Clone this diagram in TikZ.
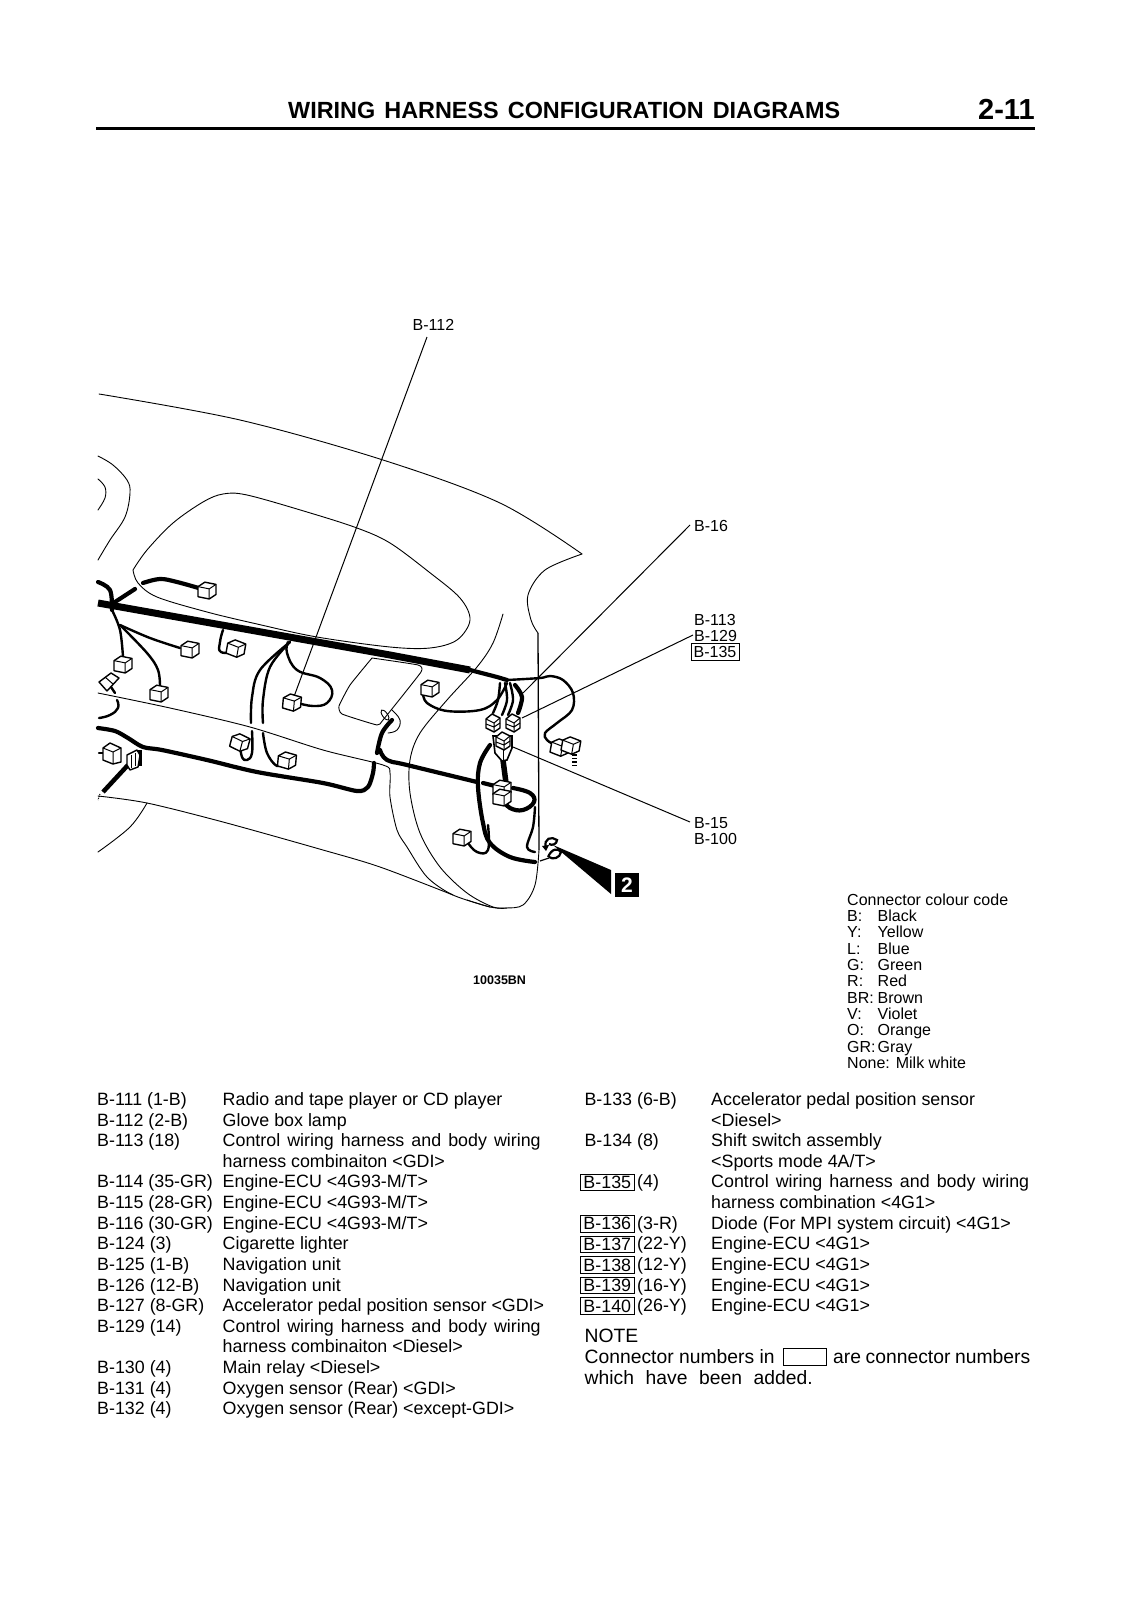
\documentclass[tikz,border=0pt]{standalone}
\usepackage{fontspec}
\setmainfont{Liberation Sans}
\tikzset{
 x=1pt,y=-1pt,
 tbl/.style={anchor=base west,inner sep=0pt,font=\fontsize{17.85}{20}\selectfont},
 lab/.style={anchor=base west,inner sep=0pt,font=\fontsize{16}{18}\selectfont},
 boxed/.style={draw,line width=0.9pt,inner sep=0pt,minimum width=54.5pt,minimum height=16.6pt,anchor=center,font=\fontsize{17.85}{20}\selectfont},
 body/.style={line width=0.9pt,line cap=round,line join=round},
 lead/.style={line width=1pt},
 wire/.style={line width=2.4pt,line cap=round,line join=round},
 harn/.style={line width=4.2pt,line cap=round,line join=round},
 main/.style={line width=7pt,line join=round},
 conn/.style={line width=1.4pt,line join=round,fill=white},
}
\newcommand{\conn}[3]{\begin{scope}[shift={(#1,#2)},rotate=#3,scale=1.12]
 \draw[conn] (-8,-3) -- (-2,-7) -- (8,-5) -- (8,4) -- (2,8) -- (-8,6) -- cycle;
 \draw[line width=1pt] (-8,-3) -- (2,-1) -- (8,-5) (2,-1) -- (2,8);
 \end{scope}}
\newcommand{\vconn}[2]{\begin{scope}[shift={(#1,#2)}]
 \draw[conn] (-7,-3) -- (-1,-8) -- (7,-4) -- (7,6) -- (1,10) -- (-7,6) -- cycle;
 \draw[line width=1pt] (-7,-3) -- (1,1) -- (7,-4) (-7,2) -- (1,5) -- (7,1) (1,1) -- (1,10);
 \end{scope}}
\newcommand{\tl}[4]{\node[tbl] (l#1) at (97,{1105.4+20.63*#1}) {#2}; \node[tbl] (d#1) at (222.5,{1105.4+20.63*#1}) {#3#4};}
\newcommand{\tr}[4]{\node[tbl] (rc#1) at (584.3,{1105.4+20.63*#1}) {#2}; \node[tbl] (rd#1) at (711,{1105.4+20.63*#1}) {#3#4};}
\newcommand{\trb}[4]{\node[boxed] (rc#1) at (607.3,{1105.4+20.63*#1-5.5}) {#2}; \node[tbl] (rn#1) at (637,{1105.4+20.63*#1}) {#3}; \node[tbl] (rd#1) at (711,{1105.4+20.63*#1}) {#4};}
\begin{document}
\begin{tikzpicture}
\useasboundingbox (0,0) rectangle (1131,1600);
% header
\node[anchor=base west,inner sep=0pt,font=\fontsize{23.4}{26}\bfseries\selectfont] (title) at (288,118) {\makebox[552pt][s]{WIRING HARNESS CONFIGURATION DIAGRAMS}};
\node[anchor=base west,inner sep=0pt,font=\fontsize{29}{30}\bfseries\selectfont] (page) at (978,120) {2-11};
\coordinate (ruleA) at (96,128.5); \coordinate (ruleB) at (1035,128.5);
\draw[line width=3.6pt] (ruleA) -- (ruleB);
% body outlines
\draw[body] plot[smooth,tension=.55] coordinates {(99,394) (240,420) (383,460) (500,503) (582,554)};
\draw[body] plot[smooth,tension=.55] coordinates {(582,554) (545,570) (528,595) (531,620) (538,633)};
\draw[line width=1.3pt] (538,633) -- (539,850);
\draw[body] plot[smooth,tension=.55] coordinates {(539,850) (535,885) (523,905) (505,908) (490,907) (467,900)};
\draw[body] plot[smooth,tension=.6] coordinates {(98,456) (113,465) (127,480) (130,493) (125,517) (110,540) (98,560)};
\draw[body] plot[smooth,tension=.6] coordinates {(98,479) (105,487) (105,498) (98,510)};
% glove box
\draw[body] plot[smooth,tension=.55] coordinates {(133,570) (138,583) (157,597) (207,612) (257,624) (317,637) (390,647) (430,648) (457,640) (470,620) (460,598) (429,572) (390,543) (357,528) (307,512) (247,495) (223,494) (203,502) (173,523) (147,550) (133,570)};
\draw[body] plot[smooth,tension=.55] coordinates {(503,614) (493,643) (477,667) (447,700) (420,733) (410,760) (410,793) (420,833) (440,867) (467,893) (493,907) (507,908)};
\draw[body] plot[smooth,tension=.5] coordinates {(98,693) (170,708) (250,727) (323,750) (383,765) (390,773) (390,797) (397,830) (407,847) (427,877) (453,895) (490,907)};
\draw[body] plot[smooth,tension=.5] coordinates {(98,796) (147,803) (223,822) (323,850) (380,867) (453,895)};
\draw[body] plot[smooth,tension=.6] coordinates {(147,803) (130,827) (98,852)};
\draw[body,fill=white] plot[smooth,tension=.25] coordinates {(372,658) (418,665) (421,672) (383,720) (377,725) (342,714) (339,706) (350,685) (372,658)};
\draw[body] plot[smooth,tension=.7] coordinates {(392,710) (400,720) (397,730) (388,733)};
\draw[body,rotate around={35:(385,715)}] (385,715) ellipse (2.5 and 6);
% leaders
\coordinate (c112a) at (427,337); \coordinate (c112b) at (292,702);
\coordinate (c16a) at (690,525); \coordinate (c16b) at (523,693);
\coordinate (c129a) at (693,635); \coordinate (c129b) at (522,718);
\coordinate (c15a) at (690,822); \coordinate (c15b) at (513,747);
\draw[lead] (c112a) -- (c112b);
\draw[lead] (c16a) -- (c16b);
\draw[lead] (c129a) -- (c129b);
\draw[lead] (c15a) -- (c15b);
% harness
\draw[main] (98,603) -- (250,630) -- (390,655) -- (470,670);
\draw[harn] (470,670) -- (497,677) -- (507,680);
\draw[harn] plot[smooth,tension=.6] coordinates {(98,582) (110,590) (112,610)};
\draw[harn] (115,602) -- (135,589);
\draw[harn] plot[smooth,tension=.6] coordinates {(143,583) (160,579) (177,582) (202,589)};
\draw[wire] plot[smooth,tension=.6] coordinates {(112,610) (120,630) (123,657)};
\draw[wire] plot[smooth,tension=.6] coordinates {(120,625) (147,653) (158,670) (160,687)};
\draw[wire] plot[smooth,tension=.6] coordinates {(120,625) (150,638) (180,648)};
\draw[wire] plot[smooth,tension=.8] coordinates {(223,630) (220,642) (221,652) (236,652)};
\draw[wire] plot[smooth,tension=.6] coordinates {(290,642) (260,670) (252,697) (251,723)};
\draw[wire] plot[smooth,tension=.7] coordinates {(252,731) (252,753) (247,760) (242,757) (240,745)};
\draw[wire] plot[smooth,tension=.6] coordinates {(290,642) (270,667) (263,700) (263,723)};
\draw[wire] plot[smooth,tension=.6] coordinates {(263,733) (267,753) (277,766) (287,762)};
\draw[wire] plot[smooth,tension=.7] coordinates {(288,642) (287,653) (297,670) (320,678) (332,690) (327,703) (313,706) (298,703)};
\draw[harn] plot[smooth,tension=.5] coordinates {(98,728) (115,731) (128,738) (143,747) (162,750) (207,760) (257,772) (323,783) (357,791) (368,787) (373,773) (374,763)};
\draw[harn] plot[smooth,tension=.6] coordinates {(377,753) (382,733) (392,720)};
\draw[harn] plot[smooth,tension=.7] coordinates {(380,750) (387,760) (407,765) (477,782)};
\draw[harn] (483,783) -- (495,786);
\draw[wire] plot[smooth,tension=.8] coordinates {(99,718) (110,715) (118,708) (117,700)};
\draw[wire] (111,687) -- (115,693);
\draw[wire] (99,753) -- (103,753);
% right side wires
\draw[wire] plot[smooth,tension=.6] coordinates {(507,680) (540,678) (550,676) (563,680) (573,693) (572,710) (557,723) (545,733) (547,740) (555,745)};
\draw[wire] plot[smooth,tension=.6] coordinates {(507,683) (497,700) (480,710) (447,711) (427,703) (423,693)};
\draw[wire] plot[smooth,tension=.6] coordinates {(500,683) (498,700) (493,713)};
\draw[wire] plot[smooth,tension=.6] coordinates {(505,683) (507,700) (502,715)};
\draw[wire] plot[smooth,tension=.6] coordinates {(510,683) (513,700) (508,715)};
\draw[harn] plot[smooth,tension=.6] coordinates {(515,685) (522,697) (518,713)};
\draw[harn] plot[smooth,tension=.6] coordinates {(490,745) (480,763) (478,787) (483,823) (490,843) (510,857) (535,862)};
\draw[wire] plot[smooth,tension=.7] coordinates {(488,825) (488,850) (477,852) (468,843)};
\draw[harn] plot[smooth,tension=.7] coordinates {(513,788) (530,793) (534,802) (523,810) (510,808) (503,800)};
\draw[wire] plot[smooth,tension=.6] coordinates {(535,807) (533,827) (527,847) (535,852)};
\draw[line width=5.5pt] (503,760) -- (506,783);
% connectors
\conn{207}{590}{0}
\conn{123}{664}{0}
\conn{159}{693}{0}
\conn{190}{649}{0}
\conn{236}{648}{-10}
\conn{240}{742}{-15}
\conn{287}{760}{-5}
\conn{292}{702}{-5}
\conn{430}{688}{0}
\conn{462}{837}{0}
% V-shaped bundle
\draw[line width=1.6pt,fill=white] (493,736) -- (495,753) -- (502,761) -- (507,760) -- (512,748) -- (512,736) -- cycle;
\draw[line width=1pt] (503,735) -- (503,760);
\vconn{493}{722}
\vconn{513}{722}
\vconn{503}{740}
\conn{502}{788}{0}
\conn{502}{797}{0}
\conn{560}{747}{-10}
\conn{571}{745}{-10}
% left-hand parts
\draw[conn] (99,682) -- (111,673) -- (119,678) -- (107,691) -- cycle;
\draw[line width=1pt] (105,677) -- (113,684);
\draw[conn] (103,748) -- (110,743) -- (121,748) -- (121,762) -- (113,764) -- (103,760) -- cycle;
\draw[line width=1pt] (103,748) -- (113,752) -- (121,748) (113,752) -- (113,764);
\draw[line width=4.5pt] (128,765) -- (103,792);
\fill (136,750) rectangle (142,766);
\draw[conn] (127,755) -- (137,750) -- (140,755) -- (138,767) -- (130,770) -- (127,765) -- cycle;
\draw[line width=1pt] (131,755) -- (131,768) (135,753) -- (135,766);
\draw[line width=1pt,densely dotted] (100,794) -- (98,800);
% dashes at the end of the shift connector
\draw[line width=1.3pt] (572,755) -- (577,755) (572,758.5) -- (577,758.5) (572,762) -- (577,762) (572,765.5) -- (577,765.5);
% bolt and callout
\draw[line width=2.2pt] (546,848) .. controls (543,838) and (552,836) .. (557,840) .. controls (557,844) and (552,846) .. (549,844);
\draw[line width=2.2pt] (548,857) .. controls (552,848) and (558,848) .. (561,852) .. controls (560,858) and (553,860) .. (549,857);
\draw[line width=1.2pt] (540,861) -- (549,858);
\fill (542,846) -- (549,845) -- (546,851) -- cycle;
\coordinate (w0) at (553,845); \coordinate (w1) at (611,870); \coordinate (w2) at (611,894);
\fill (w0) -- (w1) -- (w2) -- cycle;
\node[fill=black,text=white,minimum width=24pt,minimum height=24.5pt,inner sep=0pt,font=\fontsize{21}{21}\bfseries\selectfont] (two) at (627,885) {2};
% callouts
\node[lab] (b112) at (412.5,330) {B-112};
\node[lab] (b16) at (694,531) {B-16};
\node[lab] (b113) at (694,625) {B-113};
\node[lab] (b129) at (694,641) {B-129};
\node[lab,draw,line width=.9pt,anchor=center,minimum width=48pt,minimum height=16.6pt] (b135) at (715,651.7) {B-135};
\node[lab] (b15) at (694,828) {B-15};
\node[lab] (b100) at (694,844.7) {B-100};
\node[anchor=base west,inner sep=0pt,font=\fontsize{12.5}{14}\bfseries\selectfont] (code) at (473,984) {10035BN};
% colour code
\begin{scope}[every node/.style={lab}]
\node (cc) at (847,905) {Connector colour code};
\node (k1) at (847,921.4) {B:}; \node (v1) at (877.5,921.4) {Black};
\node (k2) at (847,937.7) {Y:}; \node (v2) at (877.5,937.7) {Yellow};
\node (k3) at (847,954.1) {L:}; \node (v3) at (877.5,954.1) {Blue};
\node (k4) at (847,970.4) {G:}; \node (v4) at (877.5,970.4) {Green};
\node (k5) at (847,986.8) {R:}; \node (v5) at (877.5,986.8) {Red};
\node (k6) at (847,1003.2) {BR:}; \node (v6) at (877.5,1003.2) {Brown};
\node (k7) at (847,1019.5) {V:}; \node (v7) at (877.5,1019.5) {Violet};
\node (k8) at (847,1035.9) {O:}; \node (v8) at (877.5,1035.9) {Orange};
\node (k9) at (847,1052.2) {GR:}; \node (v9) at (877.5,1052.2) {Gray};
\node (k10) at (847,1068.6) {None: Milk white};
\end{scope}
% left table
\tl{0}{B-111 (1-B)}{Radio and tape player or CD player}{}
\tl{1}{B-112 (2-B)}{Glove box lamp}{}
\tl{2}{B-113 (18)}{\makebox[318pt][s]{Control wiring harness and body wiring}}{}
\node[tbl] (d3) at (222.5,{1105.4+20.63*3}) {harness combinaiton <GDI>};
\tl{4}{B-114 (35-GR)}{Engine-ECU <4G93-M/T>}{}
\tl{5}{B-115 (28-GR)}{Engine-ECU <4G93-M/T>}{}
\tl{6}{B-116 (30-GR)}{Engine-ECU <4G93-M/T>}{}
\tl{7}{B-124 (3)}{Cigarette lighter}{}
\tl{8}{B-125 (1-B)}{Navigation unit}{}
\tl{9}{B-126 (12-B)}{Navigation unit}{}
\tl{10}{B-127 (8-GR)}{Accelerator pedal position sensor <GDI>}{}
\tl{11}{B-129 (14)}{\makebox[318pt][s]{Control wiring harness and body wiring}}{}
\node[tbl] (d12) at (222.5,{1105.4+20.63*12}) {harness combinaiton <Diesel>};
\tl{13}{B-130 (4)}{Main relay <Diesel>}{}
\tl{14}{B-131 (4)}{Oxygen sensor (Rear) <GDI>}{}
\tl{15}{B-132 (4)}{Oxygen sensor (Rear) <except-GDI>}{}
% right table
\tr{0}{B-133 (6-B)}{Accelerator pedal position sensor}{}
\node[tbl] (rd1) at (711,{1105.4+20.63*1}) {<Diesel>};
\tr{2}{B-134 (8)}{Shift switch assembly}{}
\node[tbl] (rd3) at (711,{1105.4+20.63*3}) {<Sports mode 4A/T>};
\trb{4}{B-135}{(4)}{\makebox[318pt][s]{Control wiring harness and body wiring}}
\node[tbl] (rd5) at (711,{1105.4+20.63*5}) {harness combination <4G1>};
\trb{6}{B-136}{(3-R)}{Diode (For MPI system circuit) <4G1>}
\trb{7}{B-137}{(22-Y)}{Engine-ECU <4G1>}
\trb{8}{B-138}{(12-Y)}{Engine-ECU <4G1>}
\trb{9}{B-139}{(16-Y)}{Engine-ECU <4G1>}
\trb{10}{B-140}{(26-Y)}{Engine-ECU <4G1>}
\node[anchor=base west,inner sep=0pt,font=\fontsize{19.3}{20}\selectfont] (note) at (584.5,1342) {NOTE};
\node[anchor=base west,inner sep=0pt,font=\fontsize{19.3}{20}\selectfont] (n1) at (584.5,1363.3) {Connector numbers in};
\node[draw,line width=1pt,inner sep=0pt,minimum width=42.7pt,minimum height=16.6pt] (nbox) at (805.3,1357) {};
\node[anchor=base west,inner sep=0pt,font=\fontsize{19.3}{20}\selectfont] (n2) at (833,1363.3) {\makebox[197pt][s]{are connector numbers}};
\node[anchor=base west,inner sep=0pt,font=\fontsize{19.3}{20}\selectfont] (n3) at (584.5,1384.3) {\makebox[228pt][s]{which have been added.}};
\end{tikzpicture}
\end{document}
